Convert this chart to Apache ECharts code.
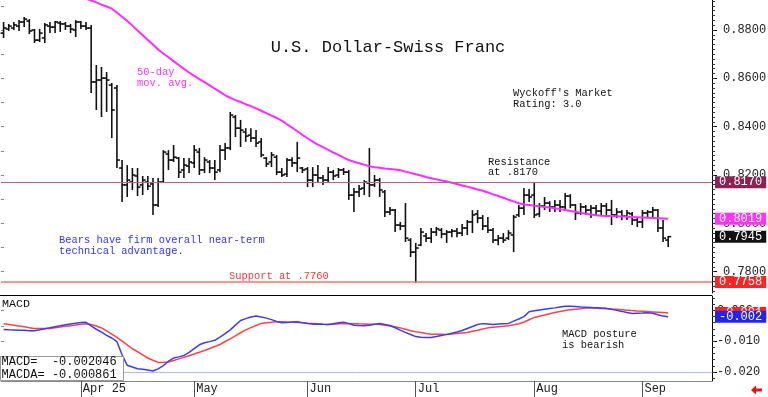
<!DOCTYPE html>
<html>
<head>
<meta charset="utf-8">
<title>U.S. Dollar-Swiss Franc</title>
<script src="https://cdn.jsdelivr.net/npm/echarts@6/dist/echarts.min.js"></script>
<style>
  html, body { margin: 0; padding: 0; background: #fff; }
  #chart { width: 768px; height: 397px; }
</style>
</head>
<body>
<div id="chart"></div>
<script>
// trading days shown on the chart (the last ones of Sep are still empty)
const dates = [
  '2025-03-11','2025-03-12','2025-03-13','2025-03-14','2025-03-17','2025-03-18','2025-03-19','2025-03-20','2025-03-21','2025-03-24',
  '2025-03-25','2025-03-26','2025-03-27','2025-03-28','2025-03-31',
  '2025-04-01','2025-04-02','2025-04-03','2025-04-04','2025-04-07','2025-04-08','2025-04-09','2025-04-10','2025-04-11','2025-04-14',
  '2025-04-15','2025-04-16','2025-04-17','2025-04-18','2025-04-21','2025-04-22','2025-04-23','2025-04-24','2025-04-25','2025-04-28',
  '2025-04-29','2025-04-30',
  '2025-05-01','2025-05-02','2025-05-05','2025-05-06','2025-05-07','2025-05-08','2025-05-09','2025-05-12','2025-05-13','2025-05-14',
  '2025-05-15','2025-05-16','2025-05-19','2025-05-20','2025-05-21','2025-05-22','2025-05-23','2025-05-26','2025-05-27','2025-05-28',
  '2025-05-29','2025-05-30',
  '2025-06-02','2025-06-03','2025-06-04','2025-06-05','2025-06-06','2025-06-09','2025-06-10','2025-06-11','2025-06-12','2025-06-13',
  '2025-06-16','2025-06-17','2025-06-18','2025-06-19','2025-06-20','2025-06-23','2025-06-24','2025-06-25','2025-06-26','2025-06-27',
  '2025-06-30',
  '2025-07-01','2025-07-02','2025-07-03','2025-07-04','2025-07-07','2025-07-08','2025-07-09','2025-07-10','2025-07-11','2025-07-14',
  '2025-07-15','2025-07-16','2025-07-17','2025-07-18','2025-07-21','2025-07-22','2025-07-23','2025-07-24','2025-07-25','2025-07-28',
  '2025-07-29','2025-07-30','2025-07-31',
  '2025-08-01','2025-08-04','2025-08-05','2025-08-06','2025-08-07','2025-08-08','2025-08-11','2025-08-12','2025-08-13','2025-08-14',
  '2025-08-15','2025-08-18','2025-08-19','2025-08-20','2025-08-21','2025-08-22','2025-08-25','2025-08-26','2025-08-27','2025-08-28',
  '2025-08-29',
  '2025-09-01','2025-09-02','2025-09-03','2025-09-04','2025-09-05','2025-09-08','2025-09-09','2025-09-10','2025-09-11','2025-09-12',
  '2025-09-15','2025-09-16','2025-09-17','2025-09-18'
];

const opens = [
  0.8787,0.8804,0.8808,0.8816,0.8833,0.8837,0.8800,0.8758,0.8767,0.8816,
  0.8812,0.8829,0.8825,0.8816,0.8800,0.8833,0.8816,0.8808,0.8585,0.8593,
  0.8601,0.8572,0.8560,0.8229,0.8159,0.8171,0.8196,0.8159,0.8171,0.8163,
  0.8076,0.8171,0.8287,0.8262,0.8270,0.8221,0.8237,0.8250,0.8295,0.8221,
  0.8254,0.8229,0.8221,0.8303,0.8312,0.8440,0.8394,0.8378,0.8365,0.8353,
  0.8337,0.8270,0.8254,0.8274,0.8212,0.8204,0.8262,0.8250,0.8229,0.8225,
  0.8179,0.8200,0.8188,0.8179,0.8212,0.8200,0.8221,0.8212,0.8117,0.8130,
  0.8146,0.8167,0.8159,0.8179,0.8130,0.8047,0.8055,0.7993,0.7989,0.7931,
  0.7881,0.7910,0.7948,0.7939,0.7964,0.7972,0.7956,0.7964,0.7968,0.7960,
  0.7981,0.8006,0.8039,0.8022,0.7989,0.7972,0.7931,0.7939,0.7939,0.7952,
  0.8035,0.8063,0.8117,0.8117,0.8039,0.8072,0.8084,0.8068,0.8076,0.8068,
  0.8113,0.8076,0.8043,0.8068,0.8055,0.8063,0.8051,0.8072,0.8055,0.8035,
  0.8047,0.8030,0.8039,0.8014,0.8006,0.8043,0.8047,0.8055,0.7981,0.7931
];
const highs = [
  0.8833,0.8825,0.8833,0.8841,0.8854,0.8845,0.8804,0.8804,0.8829,0.8833,
  0.8837,0.8837,0.8833,0.8825,0.8841,0.8837,0.8833,0.8821,0.8655,0.8647,
  0.8626,0.8581,0.8572,0.8262,0.8241,0.8229,0.8229,0.8196,0.8196,0.8188,
  0.8188,0.8303,0.8303,0.8324,0.8274,0.8270,0.8270,0.8324,0.8312,0.8274,
  0.8262,0.8262,0.8324,0.8332,0.8461,0.8448,0.8428,0.8394,0.8394,0.8386,
  0.8353,0.8274,0.8295,0.8283,0.8229,0.8270,0.8274,0.8337,0.8233,0.8233,
  0.8233,0.8241,0.8200,0.8233,0.8221,0.8229,0.8229,0.8221,0.8146,0.8159,
  0.8179,0.8312,0.8200,0.8188,0.8138,0.8068,0.8059,0.8006,0.8084,0.7939,
  0.7919,0.7981,0.7960,0.7981,0.7985,0.7981,0.7972,0.7977,0.7981,0.7997,
  0.8014,0.8055,0.8055,0.8035,0.8026,0.7981,0.7952,0.7960,0.7972,0.8035,
  0.8076,0.8146,0.8142,0.8167,0.8084,0.8109,0.8092,0.8097,0.8097,0.8126,
  0.8121,0.8080,0.8084,0.8076,0.8076,0.8076,0.8084,0.8084,0.8097,0.8063,
  0.8055,0.8055,0.8047,0.8026,0.8055,0.8055,0.8068,0.8059,0.8014,0.7948
];
const lows = [
  0.8767,0.8796,0.8800,0.8796,0.8812,0.8783,0.8746,0.8750,0.8746,0.8787,
  0.8787,0.8792,0.8800,0.8787,0.8771,0.8804,0.8800,0.8539,0.8469,0.8440,
  0.8461,0.8353,0.8229,0.8088,0.8109,0.8138,0.8113,0.8117,0.8138,0.8035,
  0.8068,0.8167,0.8221,0.8254,0.8188,0.8188,0.8208,0.8229,0.8200,0.8208,
  0.8208,0.8179,0.8212,0.8262,0.8303,0.8357,0.8316,0.8337,0.8337,0.8316,
  0.8274,0.8233,0.8233,0.8200,0.8192,0.8192,0.8233,0.8212,0.8208,0.8150,
  0.8150,0.8167,0.8159,0.8171,0.8179,0.8188,0.8200,0.8097,0.8047,0.8109,
  0.8117,0.8109,0.8150,0.8109,0.8026,0.8035,0.7964,0.7972,0.7923,0.7861,
  0.7753,0.7906,0.7923,0.7919,0.7948,0.7939,0.7919,0.7943,0.7943,0.7948,
  0.7952,0.7960,0.8001,0.7972,0.7960,0.7919,0.7910,0.7919,0.7931,0.7881,
  0.8026,0.8035,0.8088,0.8022,0.8026,0.8055,0.8047,0.8047,0.8047,0.8055,
  0.8063,0.8014,0.8035,0.8035,0.8022,0.8035,0.8035,0.8026,0.7993,0.8022,
  0.8014,0.8014,0.7993,0.7985,0.7981,0.8026,0.8026,0.7964,0.7923,0.7902
];
const closes = [
  0.8808,0.8816,0.8821,0.8833,0.8845,0.8796,0.8758,0.8787,0.8821,0.8812,
  0.8833,0.8825,0.8816,0.8804,0.8833,0.8816,0.8808,0.8585,0.8593,0.8601,
  0.8593,0.8469,0.8262,0.8159,0.8179,0.8200,0.8150,0.8179,0.8154,0.8076,
  0.8171,0.8295,0.8262,0.8274,0.8212,0.8241,0.8254,0.8303,0.8221,0.8262,
  0.8229,0.8212,0.8303,0.8312,0.8448,0.8394,0.8386,0.8361,0.8353,0.8332,
  0.8283,0.8246,0.8283,0.8212,0.8200,0.8262,0.8250,0.8270,0.8221,0.8179,
  0.8200,0.8188,0.8179,0.8212,0.8196,0.8221,0.8212,0.8117,0.8130,0.8142,
  0.8171,0.8159,0.8179,0.8138,0.8047,0.8055,0.7993,0.7989,0.7939,0.7881,
  0.7898,0.7964,0.7939,0.7964,0.7977,0.7956,0.7964,0.7968,0.7960,0.7981,
  0.8006,0.8035,0.8022,0.7989,0.7972,0.7931,0.7939,0.7931,0.7960,0.8026,
  0.8063,0.8117,0.8109,0.8035,0.8072,0.8084,0.8068,0.8076,0.8068,0.8113,
  0.8076,0.8043,0.8068,0.8055,0.8063,0.8051,0.8072,0.8055,0.8035,0.8047,
  0.8030,0.8043,0.8014,0.8006,0.8043,0.8047,0.8055,0.7981,0.7939,0.7945
];

// 50-day moving average (above the top of the chart before early April)
const ma50 = [
  null,null,null,null,null,null,null,null,null,null,
  null,null,null,null,0.8947,0.8939,0.8930,0.8922,0.8914,0.8905,
  0.8897,0.8888,0.8872,0.8855,0.8837,0.8818,0.8798,0.8778,0.8759,0.8740,
  0.8719,0.8703,0.8687,0.8671,0.8655,0.8639,0.8624,0.8610,0.8597,0.8584,
  0.8571,0.8557,0.8544,0.8530,0.8519,0.8510,0.8502,0.8493,0.8485,0.8476,
  0.8466,0.8456,0.8446,0.8436,0.8425,0.8410,0.8396,0.8381,0.8366,0.8352,
  0.8338,0.8326,0.8315,0.8304,0.8293,0.8283,0.8272,0.8262,0.8255,0.8249,
  0.8243,0.8236,0.8232,0.8230,0.8227,0.8225,0.8223,0.8220,0.8214,0.8209,
  0.8203,0.8198,0.8192,0.8187,0.8182,0.8177,0.8173,0.8168,0.8163,0.8157,
  0.8152,0.8146,0.8140,0.8135,0.8128,0.8120,0.8113,0.8106,0.8098,0.8091,
  0.8083,0.8078,0.8076,0.8073,0.8071,0.8068,0.8066,0.8063,0.8059,0.8055,
  0.8051,0.8048,0.8044,0.8040,0.8037,0.8034,0.8032,0.8031,0.8030,0.8029,
  0.8028,0.8027,0.8026,0.8025,0.8024,0.8023,0.8022,0.8021,0.8020,0.8019
];

const macd = [
  -0.00622,-0.00629,-0.00635,-0.00642,-0.00648,-0.00658,-0.00658,-0.00629,-0.00599,-0.00567,
  -0.00534,-0.00502,-0.00466,-0.00440,-0.00414,-0.00391,-0.00388,-0.00505,-0.00612,-0.00704,
  -0.00808,-0.00896,-0.01016,-0.01440,-0.01782,-0.01837,-0.01892,-0.01909,-0.01935,-0.01964,
  -0.01896,-0.01791,-0.01648,-0.01547,-0.01508,-0.01466,-0.01365,-0.01241,-0.01117,-0.01052,
  -0.01013,-0.00971,-0.00866,-0.00756,-0.00632,-0.00479,-0.00329,-0.00267,-0.00215,-0.00182,
  -0.00215,-0.00251,-0.00300,-0.00358,-0.00401,-0.00391,-0.00381,-0.00371,-0.00397,-0.00423,
  -0.00446,-0.00449,-0.00453,-0.00456,-0.00430,-0.00404,-0.00381,-0.00430,-0.00482,-0.00492,
  -0.00498,-0.00479,-0.00449,-0.00427,-0.00456,-0.00492,-0.00563,-0.00642,-0.00713,-0.00782,
  -0.00850,-0.00870,-0.00883,-0.00883,-0.00850,-0.00814,-0.00778,-0.00739,-0.00700,-0.00651,
  -0.00586,-0.00524,-0.00459,-0.00430,-0.00443,-0.00456,-0.00443,-0.00430,-0.00423,-0.00349,
  -0.00280,-0.00202,-0.00042,-0.00016,0.00010,0.00036,0.00059,0.00081,0.00107,0.00130,
  0.00134,0.00124,0.00111,0.00101,0.00091,0.00081,0.00075,0.00065,0.00033,0.00000,
  -0.00033,-0.00068,-0.00098,-0.00091,-0.00088,-0.00081,-0.00094,-0.00140,-0.00186,-0.002046
];
const macda = [
  -0.00436,-0.00459,-0.00482,-0.00505,-0.00534,-0.00563,-0.00586,-0.00586,-0.00586,-0.00586,
  -0.00563,-0.00541,-0.00518,-0.00495,-0.00476,-0.00453,-0.00430,-0.00456,-0.00505,-0.00570,
  -0.00668,-0.00772,-0.00873,-0.00997,-0.01120,-0.01244,-0.01342,-0.01443,-0.01544,-0.01619,
  -0.01687,-0.01684,-0.01674,-0.01625,-0.01573,-0.01524,-0.01469,-0.01414,-0.01358,-0.01300,
  -0.01238,-0.01173,-0.01107,-0.01010,-0.00925,-0.00827,-0.00726,-0.00632,-0.00560,-0.00489,
  -0.00423,-0.00404,-0.00388,-0.00368,-0.00371,-0.00378,-0.00384,-0.00391,-0.00401,-0.00414,
  -0.00423,-0.00433,-0.00446,-0.00456,-0.00446,-0.00436,-0.00430,-0.00423,-0.00430,-0.00436,
  -0.00440,-0.00446,-0.00453,-0.00459,-0.00482,-0.00505,-0.00528,-0.00567,-0.00612,-0.00658,
  -0.00690,-0.00720,-0.00749,-0.00772,-0.00775,-0.00778,-0.00782,-0.00765,-0.00749,-0.00733,
  -0.00717,-0.00677,-0.00642,-0.00603,-0.00567,-0.00550,-0.00534,-0.00518,-0.00498,-0.00469,
  -0.00436,-0.00378,-0.00303,-0.00228,-0.00189,-0.00147,-0.00107,-0.00072,-0.00039,-0.00003,
  0.00020,0.00039,0.00055,0.00075,0.00081,0.00072,0.00062,0.00052,0.00042,0.00033,
  0.00020,0.00007,-0.00007,-0.00020,-0.00029,-0.00039,-0.00049,-0.00059,-0.00072,-0.000861
];

const resistance = 0.8170;
const support = 0.7758;
const priceLabels = [0.78, 0.80, 0.82, 0.84, 0.86, 0.88];
const macdLabels = [-0.02, -0.01, 0];
const leftPriceTicks = [0.78, 0.79, 0.80, 0.81, 0.82, 0.83, 0.84, 0.85, 0.86, 0.87, 0.88, 0.89];
const leftMacdTicks = [-0.02, -0.015, -0.01, -0.005, 0];

// axis ranges
const priceMin = 0.7712, priceMax = 0.8924;
const macdMin = -0.0229, macdMax = 0.00466;

const priceMinor = [];
for (let v = 772; v <= 892; v += 2) priceMinor.push(v / 1000);
const macdMinor = [];
for (let v = -22; v <= 4; v += 2) macdMinor.push(v / 1000);

const MONO = '"Liberation Mono", "DejaVu Sans Mono", monospace';
const monthNames = ['Jan','Feb','Mar','Apr','May','Jun','Jul','Aug','Sep','Oct','Nov','Dec'];

function isMonthStart(idx) {
    return idx > 0 && dates[idx].slice(5, 7) !== dates[idx - 1].slice(5, 7);
}
const firstLabel = dates.findIndex((d, i) => isMonthStart(i));
function monthLabel(value, idx) {
    const m = monthNames[+value.slice(5, 7) - 1];
    return idx === firstLabel ? m + ' ' + value.slice(2, 4) : m;
}

const bars = opens.map((o, i) => [i, o, highs[i], lows[i], closes[i]]);

// open tick left, close tick right
function renderBar(params, api) {
    const i = api.value(0);
    const o = api.coord([i, api.value(1)]);
    const h = api.coord([i, api.value(2)]);
    const l = api.coord([i, api.value(3)]);
    const c = api.coord([i, api.value(4)]);
    const x = o[0];
    const style = { stroke: '#111', lineWidth: 1.6 };
    return {
        type: 'group',
        children: [
            { type: 'line', shape: { x1: x, y1: h[1], x2: x, y2: l[1] }, style: style },
            { type: 'line', shape: { x1: x - 3, y1: o[1], x2: x, y2: o[1] }, style: style },
            { type: 'line', shape: { x1: x, y1: c[1], x2: x + 3, y2: c[1] }, style: style }
        ]
    };
}

// value tag on the right axis, with or without a visible line across
function tag(value, text, bg, lineColor, width) {
    return {
        yAxis: value,
        lineStyle: lineColor
            ? { color: lineColor, width: width || 1, type: 'solid' }
            : { color: 'rgba(0,0,0,0)', width: 1, type: 'solid' },
        label: { show: true, formatter: text, backgroundColor: bg }
    };
}

const tagLabel = {
    show: true, position: 'end', distance: 3, color: '#fff',
    fontFamily: MONO, fontSize: 12, lineHeight: 12, padding: [0, 4, 0, 4]
};

const lastClose = closes[closes.length - 1];
const lastMa = ma50[ma50.length - 1];
const lastMacd = macd[macd.length - 1];
const lastMacda = macda[macda.length - 1];

const chart = echarts.init(document.getElementById('chart'), null, { renderer: 'canvas' });

const axisText = { fontFamily: MONO, fontSize: 12, color: '#222' };

const option = {
    animation: false,
    backgroundColor: '#fff',
    grid: [
        { left: 1, right: 56, top: 0, height: 293, containLabel: false, outerBoundsMode: 'none' },
        { left: 1, right: 56, top: 296, height: 85, containLabel: false, outerBoundsMode: 'none' }
    ],
    xAxis: [
        {
            type: 'category', gridIndex: 0, data: dates, boundaryGap: true,
            axisLine: { show: false }, axisTick: { show: false }, axisLabel: { show: false }
        },
        {
            type: 'category', gridIndex: 1, data: dates, boundaryGap: true, position: 'bottom',
            axisLine: { show: true, onZero: false, lineStyle: { color: '#888', width: 1 } },
            axisTick: {
                show: true, alignWithLabel: true, length: 16,
                interval: (idx) => isMonthStart(idx),
                lineStyle: { color: '#555' }
            },
            axisLabel: Object.assign({
                interval: (idx) => isMonthStart(idx),
                formatter: monthLabel,
                align: 'left', padding: [0, 0, 0, 2], margin: 2
            }, axisText)
        }
    ],
    yAxis: [
        {
            type: 'value', gridIndex: 0, position: 'right', min: priceMin, max: priceMax,
            axisLine: { show: true, lineStyle: { color: '#000' } },
            axisTick: { show: true, length: 5, customValues: priceLabels, lineStyle: { color: '#000' } },
            axisLabel: Object.assign({ customValues: priceLabels, formatter: v => v.toFixed(4), margin: 11 }, axisText),
            splitLine: { show: false }
        },
        {
            type: 'value', gridIndex: 0, position: 'right', min: priceMin, max: priceMax,
            axisLine: { show: false },
            axisTick: { show: true, length: 3, customValues: priceMinor, lineStyle: { color: '#333' } },
            axisLabel: { show: false }, splitLine: { show: false }
        },
        {
            type: 'value', gridIndex: 0, position: 'left', min: priceMin, max: priceMax,
            axisLine: { show: false },
            axisTick: { show: true, inside: true, length: 3, customValues: leftPriceTicks, lineStyle: { color: '#888' } },
            axisLabel: { show: false }, splitLine: { show: false }
        },
        {
            type: 'value', gridIndex: 1, position: 'right', min: macdMin, max: macdMax,
            axisLine: { show: true, lineStyle: { color: '#000' } },
            axisTick: { show: true, length: 5, customValues: macdLabels, lineStyle: { color: '#000' } },
            axisLabel: Object.assign({ customValues: macdLabels, formatter: v => v.toFixed(3), margin: 5 }, axisText),
            splitLine: { show: false }
        },
        {
            type: 'value', gridIndex: 1, position: 'right', min: macdMin, max: macdMax,
            axisLine: { show: false },
            axisTick: { show: true, length: 3, customValues: macdMinor, lineStyle: { color: '#333' } },
            axisLabel: { show: false }, splitLine: { show: false }
        },
        {
            type: 'value', gridIndex: 1, position: 'left', min: macdMin, max: macdMax,
            axisLine: { show: false },
            axisTick: { show: true, inside: true, length: 3, customValues: leftMacdTicks, lineStyle: { color: '#888' } },
            axisLabel: { show: false }, splitLine: { show: false }
        }
    ],
    series: [
        {
            name: 'USD/CHF', type: 'custom', xAxisIndex: 0, yAxisIndex: 0,
            renderItem: renderBar, data: bars, encode: { x: 0, y: [1, 2, 3, 4] }, z: 2
        },
        {
            name: '50-day', type: 'line', xAxisIndex: 0, yAxisIndex: 0, data: ma50,
            showSymbol: false, symbol: 'none', clip: true, z: 3,
            lineStyle: { color: '#ff2cff', width: 2 },
            markLine: {
                silent: true, symbol: ['none', 'none'], animation: false, precision: 6, label: tagLabel,
                data: [
                    tag(resistance, resistance.toFixed(4), '#8b2252', '#c65a8c', 1),
                    tag(support, support.toFixed(4), '#ff2424', '#ff7070', 1.5),
                    tag(lastMa, lastMa.toFixed(4), '#ff33ff'),
                    tag(lastClose, lastClose.toFixed(4), '#111111')
                ]
            }
        },
        {
            name: 'MACDA', type: 'line', xAxisIndex: 1, yAxisIndex: 3, data: macda,
            showSymbol: false, symbol: 'none', z: 3,
            lineStyle: { color: '#ff4242', width: 1.5 },
            markLine: {
                silent: true, symbol: ['none', 'none'], animation: false, precision: 6, label: tagLabel,
                data: [
                    { yAxis: -0.02, lineStyle: { color: '#b8b8ff', width: 1, type: 'solid' }, label: { show: false } },
                    tag(lastMacda, lastMacda.toFixed(3), '#ff2020'),
                    tag(lastMacd, lastMacd.toFixed(3), '#2424ee')
                ]
            }
        },
        {
            name: 'MACD', type: 'line', xAxisIndex: 1, yAxisIndex: 3, data: macd,
            showSymbol: false, symbol: 'none', z: 4,
            lineStyle: { color: '#3b3bff', width: 1.5 }
        }
    ],
    graphic: [
        { type: 'line', z: 50, shape: { x1: 0, y1: 295.5, x2: 712, y2: 295.5 }, style: { stroke: '#000', lineWidth: 1 } },
        { type: 'text', z: 50, x: 388, y: 47,
          style: { text: 'U.S. Dollar-Swiss Franc', fill: '#111', fontFamily: MONO, fontSize: 17, align: 'center', verticalAlign: 'middle' } },
        { type: 'text', z: 50, x: 137, y: 66,
          style: { text: '50-day\nmov. avg.', fill: '#ff33ff', fontFamily: MONO, fontSize: 10.4, lineHeight: 11.6, verticalAlign: 'top' } },
        { type: 'text', z: 50, x: 513, y: 88,
          style: { text: "Wyckoff's Market\nRating: 3.0", fill: '#111', fontFamily: MONO, fontSize: 10.4, lineHeight: 11, verticalAlign: 'top' } },
        { type: 'text', z: 50, x: 488, y: 156.5,
          style: { text: 'Resistance\nat .8170', fill: '#111', fontFamily: MONO, fontSize: 10.4, lineHeight: 10.5, verticalAlign: 'top' } },
        { type: 'text', z: 50, x: 59, y: 234.5,
          style: { text: 'Bears have firm overall near-term\ntechnical advantage.', fill: '#3333ff', fontFamily: MONO, fontSize: 10.4, lineHeight: 11, verticalAlign: 'top' } },
        { type: 'text', z: 50, x: 229, y: 276,
          style: { text: 'Support at .7760', fill: '#ff3333', fontFamily: MONO, fontSize: 10.4, verticalAlign: 'middle' } },
        { type: 'text', z: 50, x: 562, y: 329,
          style: { text: 'MACD posture\nis bearish', fill: '#111', fontFamily: MONO, fontSize: 10.4, lineHeight: 10.5, verticalAlign: 'top' } },
        { type: 'text', z: 50, x: 2, y: 304,
          style: { text: 'MACD', fill: '#111', fontFamily: MONO, fontSize: 11.7, verticalAlign: 'middle' } },
        { type: 'rect', z: 60, shape: { x: 0.5, y: 356.5, width: 123, height: 24 },
          style: { fill: '#fff', stroke: '#999', lineWidth: 1 } },
        { type: 'text', z: 61, x: 1.5, y: 355.5,
          style: { text: 'MACD=  ' + lastMacd.toFixed(6) + '\nMACDA= ' + lastMacda.toFixed(6),
                   fill: '#111', fontFamily: MONO, fontSize: 12, lineHeight: 12.6, verticalAlign: 'top' } },
        { type: 'polygon', z: 50,
          shape: { points: [[751, 390], [756, 385.5], [756, 388.5], [762, 388.5], [762, 391.5], [756, 391.5], [756, 394.5]] },
          style: { fill: '#ee1111' } }
    ]
};

chart.setOption(option);
</script>
</body>
</html>
